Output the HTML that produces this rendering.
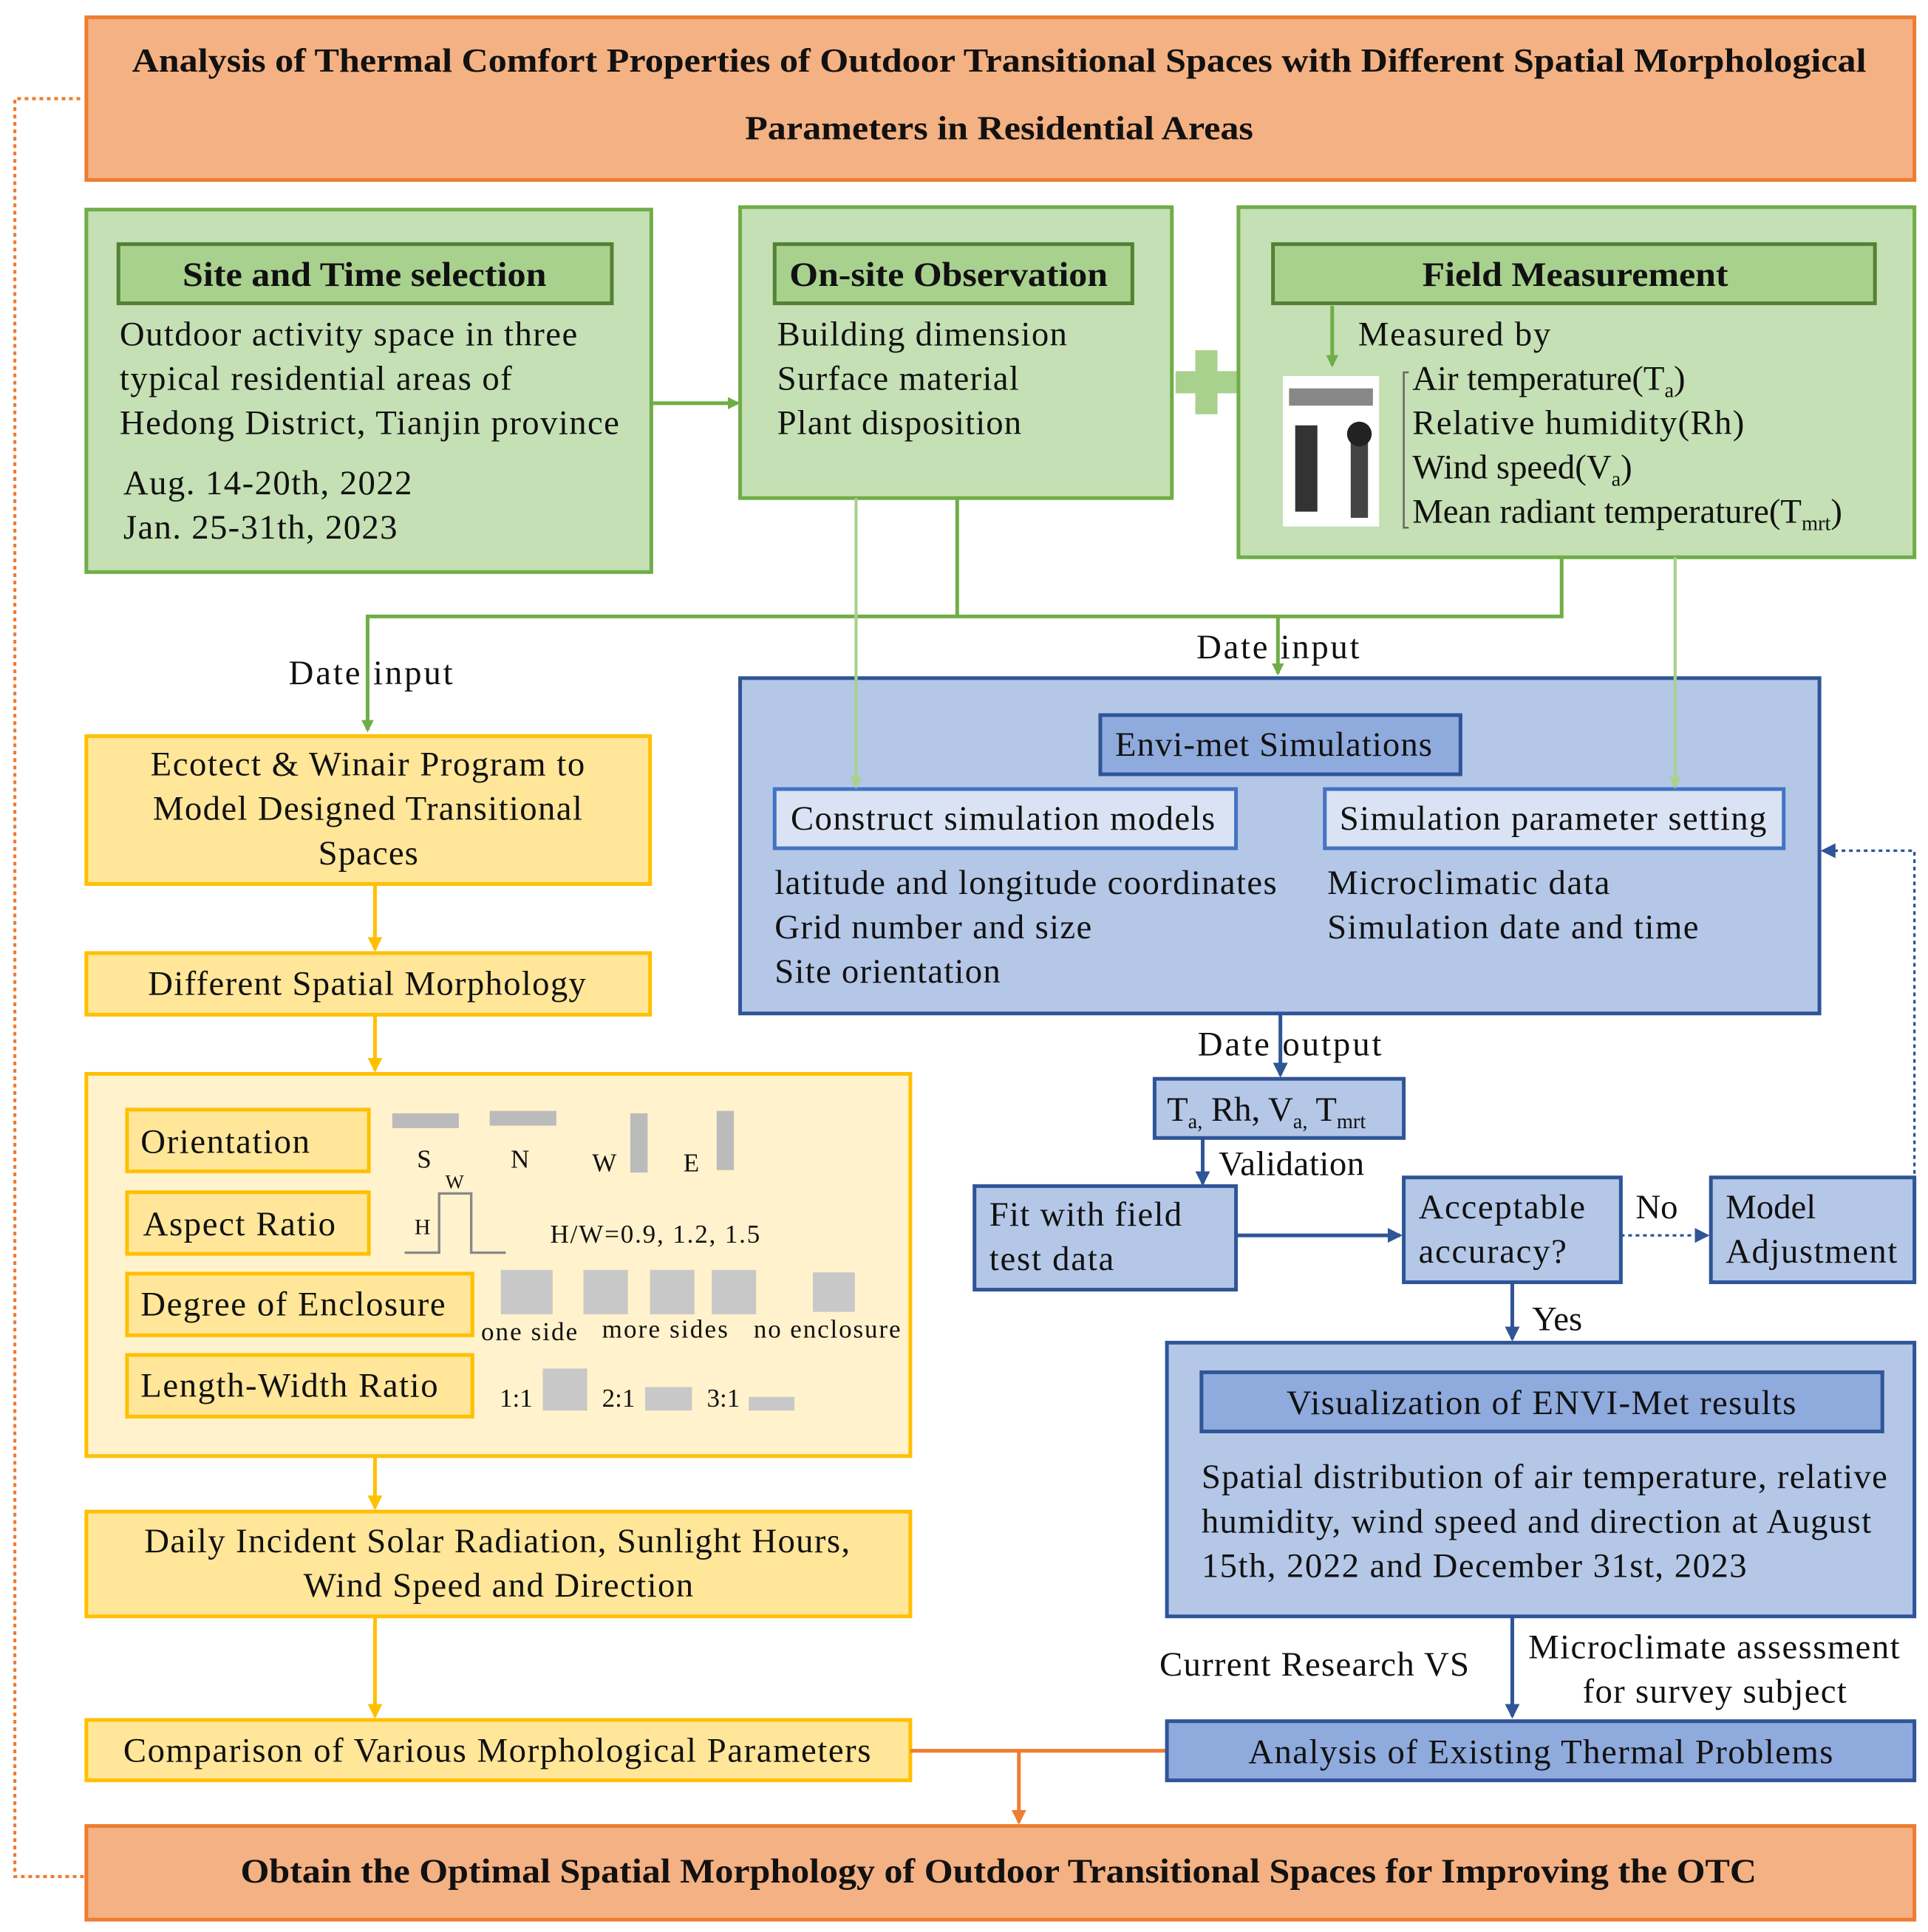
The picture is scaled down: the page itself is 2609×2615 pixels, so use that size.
<!DOCTYPE html>
<html><head><meta charset="utf-8"><style>
html,body{margin:0;padding:0;background:#fff;}
svg{display:block;}
text{font-family:"Liberation Serif",serif;fill:#111;}
.t{font-size:28px;}
.b{font-weight:bold;}
</style></head><body>
<svg width="2609" height="2615" viewBox="0 0 1563 1567" preserveAspectRatio="none" xmlns="http://www.w3.org/2000/svg">
<defs>
<marker id="ag" markerWidth="10" markerHeight="10" refX="8" refY="5" orient="auto" markerUnits="userSpaceOnUse"><path d="M0,0 L10,5 L0,10 z" fill="#70AD47"/></marker>
<marker id="agl" markerWidth="10" markerHeight="10" refX="8" refY="5" orient="auto" markerUnits="userSpaceOnUse"><path d="M0,0 L10,5 L0,10 z" fill="#A9D18E"/></marker>
<marker id="ay" markerWidth="12" markerHeight="12" refX="10" refY="6" orient="auto" markerUnits="userSpaceOnUse"><path d="M0,0 L12,6 L0,12 z" fill="#FFC000"/></marker>
<marker id="ab" markerWidth="12" markerHeight="12" refX="10" refY="6" orient="auto" markerUnits="userSpaceOnUse"><path d="M0,0 L12,6 L0,12 z" fill="#2F5597"/></marker>
<marker id="ao" markerWidth="12" markerHeight="12" refX="10" refY="6" orient="auto" markerUnits="userSpaceOnUse"><path d="M0,0 L12,6 L0,12 z" fill="#ED7D31"/></marker>
</defs>
<rect width="1563" height="1567" fill="#fff"/>
<polyline points="65,80 12,80 12,1522 68,1522" fill="none" stroke="#ED7D31" stroke-width="2.5" stroke-dasharray="3,3"/>
<rect x="70" y="14" width="1482" height="132" fill="#F4B183" stroke="#ED7D31" stroke-width="3"/>
<text x="107" y="58" class="b" font-size="27" textLength="1406" lengthAdjust="spacingAndGlyphs">Analysis of Thermal Comfort Properties of Outdoor Transitional Spaces with Different Spatial Morphological</text>
<text x="604" y="113" class="b" font-size="27" textLength="412" lengthAdjust="spacingAndGlyphs">Parameters in Residential Areas</text>

<rect x="70" y="170" width="458" height="294" fill="#C5E0B4" stroke="#70AD47" stroke-width="3"/>
<rect x="96" y="198" width="400" height="48" fill="#A9D18E" stroke="#548235" stroke-width="3"/>
<text x="148" y="232" class="t b" textLength="295" lengthAdjust="spacingAndGlyphs">Site and Time selection</text>
<text x="97" y="280" class="t" textLength="371">Outdoor activity space in three</text>
<text x="97" y="316" class="t" textLength="318">typical residential areas of</text>
<text x="97" y="352" class="t" textLength="405">Hedong District, Tianjin province</text>
<text x="100" y="401" class="t" textLength="234">Aug. 14-20th, 2022</text>
<text x="100" y="437" class="t" textLength="222">Jan. 25-31th, 2023</text>
<line x1="528" y1="327" x2="598" y2="327" stroke="#70AD47" stroke-width="3" marker-end="url(#ag)"/>

<rect x="600" y="168" width="350" height="236" fill="#C5E0B4" stroke="#70AD47" stroke-width="3"/>
<rect x="628" y="198" width="290" height="48" fill="#A9D18E" stroke="#548235" stroke-width="3"/>
<text x="640" y="232" class="t b" textLength="258" lengthAdjust="spacingAndGlyphs">On-site Observation</text>
<text x="630" y="280" class="t" textLength="235">Building  dimension</text>
<text x="630" y="316" class="t" textLength="196">Surface material</text>
<text x="630" y="352" class="t" textLength="198">Plant disposition</text>

<rect x="953" y="301" width="50" height="18" fill="#A9D18E"/>
<rect x="969" y="284" width="18" height="52" fill="#A9D18E"/>

<rect x="1004" y="168" width="548" height="284" fill="#C5E0B4" stroke="#70AD47" stroke-width="3"/>
<rect x="1032" y="198" width="488" height="48" fill="#A9D18E" stroke="#548235" stroke-width="3"/>
<text x="1153" y="232" class="t b" textLength="248" lengthAdjust="spacingAndGlyphs">Field Measurement</text>
<line x1="1080" y1="248" x2="1080" y2="296" stroke="#70AD47" stroke-width="3" marker-end="url(#ag)"/>
<text x="1101" y="280" class="t" textLength="156">Measured by</text>
<rect x="1040" y="305" width="78" height="122" fill="#fff"/>
<rect x="1045" y="315" width="68" height="14" fill="#888"/>
<rect x="1050" y="345" width="18" height="70" fill="#333"/>
<rect x="1095" y="355" width="14" height="65" fill="#444"/>
<circle cx="1102" cy="352" r="10" fill="#222"/>
<path d="M1142,302 L1138,302 L1138,428 L1142,428" fill="none" stroke="#666" stroke-width="1.5"/>
<text x="1145" y="316" class="t">Air temperature(T<tspan font-size="17" dy="6">a</tspan><tspan dy="-6">)</tspan></text>
<text x="1145" y="352" class="t" textLength="269">Relative humidity(Rh)</text>
<text x="1145" y="388" class="t">Wind speed(V<tspan font-size="17" dy="6">a</tspan><tspan dy="-6">)</tspan></text>
<text x="1145" y="424" class="t">Mean radiant temperature(T<tspan font-size="17" dy="6">mrt</tspan><tspan dy="-6">)</tspan></text>

<polyline points="776,404 776,500" fill="none" stroke="#70AD47" stroke-width="3"/>
<polyline points="1266,452 1266,500 298,500 298,592" fill="none" stroke="#70AD47" stroke-width="3" marker-end="url(#ag)"/>
<line x1="1036" y1="500" x2="1036" y2="546" stroke="#70AD47" stroke-width="3" marker-end="url(#ag)"/>
<text x="234" y="555" class="t" textLength="133">Date  input</text>
<text x="970" y="534" class="t" textLength="132">Date  input</text>

<rect x="70" y="597" width="457" height="120" fill="#FFE699" stroke="#FFC000" stroke-width="3"/>
<text x="122" y="629" class="t" textLength="352">Ecotect &amp; Winair Program to</text>
<text x="124" y="665" class="t" textLength="348">Model Designed Transitional</text>
<text x="258" y="701" class="t" textLength="81">Spaces</text>
<line x1="304" y1="717" x2="304" y2="770" stroke="#FFC000" stroke-width="3" marker-end="url(#ay)"/>
<rect x="70" y="773" width="457" height="50" fill="#FFE699" stroke="#FFC000" stroke-width="3"/>
<text x="120" y="807" class="t" textLength="355">Different Spatial Morphology</text>
<line x1="304" y1="823" x2="304" y2="868" stroke="#FFC000" stroke-width="3" marker-end="url(#ay)"/>

<rect x="70" y="871" width="668" height="310" fill="#FFF2CC" stroke="#FFC000" stroke-width="3"/>
<rect x="103" y="900" width="196" height="50" fill="#FFE699" stroke="#FFC000" stroke-width="3"/>
<text x="114" y="935" class="t" textLength="137">Orientation</text>
<rect x="103" y="967" width="196" height="50" fill="#FFE699" stroke="#FFC000" stroke-width="3"/>
<text x="116" y="1002" class="t" textLength="156">Aspect Ratio</text>
<rect x="103" y="1033" width="280" height="50" fill="#FFE699" stroke="#FFC000" stroke-width="3"/>
<text x="114" y="1067" class="t" textLength="247">Degree of Enclosure</text>
<rect x="103" y="1099" width="280" height="50" fill="#FFE699" stroke="#FFC000" stroke-width="3"/>
<text x="114" y="1133" class="t" textLength="241">Length-Width Ratio</text>
<rect x="318" y="903" width="54" height="12" fill="#bbb"/>
<rect x="397" y="901" width="54" height="12" fill="#bbb"/>
<rect x="511" y="903" width="14" height="48" fill="#bbb"/>
<rect x="581" y="901" width="14" height="48" fill="#bbb"/>
<g font-size="21"><text x="338" y="947">S</text><text x="414" y="947">N</text><text x="480" y="950">W</text><text x="554" y="950">E</text></g>
<polyline points="328,1016 356,1016 356,968 382,968 382,1016 410,1016" fill="none" stroke="#888" stroke-width="2"/>
<text x="336" y="1001" font-size="18">H</text><text x="361" y="964" font-size="16">W</text>
<text x="446" y="1008" font-size="21" textLength="170">H/W=0.9, 1.2, 1.5</text>
<g fill="#c8c8c8"><rect x="406" y="1030" width="42" height="36"/><rect x="473" y="1030" width="36" height="36"/><rect x="527" y="1030" width="36" height="36"/><rect x="577" y="1030" width="36" height="36"/><rect x="659" y="1032" width="34" height="32"/></g>
<g font-size="21"><text x="390" y="1087" textLength="78">one side</text><text x="488" y="1085" textLength="102">more sides</text><text x="611" y="1085" textLength="119">no enclosure</text></g>
<g fill="#c8c8c8"><rect x="440" y="1110" width="36" height="34"/><rect x="523" y="1125" width="38" height="19"/><rect x="607" y="1133" width="37" height="11"/></g>
<g font-size="21"><text x="405" y="1141">1:1</text><text x="488" y="1141">2:1</text><text x="573" y="1141">3:1</text></g>

<line x1="304" y1="1181" x2="304" y2="1223" stroke="#FFC000" stroke-width="3" marker-end="url(#ay)"/>
<rect x="70" y="1226" width="668" height="85" fill="#FFE699" stroke="#FFC000" stroke-width="3"/>
<text x="117" y="1259" class="t" textLength="572">Daily Incident Solar Radiation, Sunlight Hours,</text>
<text x="246" y="1295" class="t" textLength="316">Wind Speed and Direction</text>
<line x1="304" y1="1311" x2="304" y2="1392" stroke="#FFC000" stroke-width="3" marker-end="url(#ay)"/>
<rect x="70" y="1395" width="668" height="49" fill="#FFE699" stroke="#FFC000" stroke-width="3"/>
<text x="100" y="1429" class="t" textLength="606">Comparison of Various Morphological Parameters</text>

<line x1="738" y1="1420" x2="946" y2="1420" stroke="#ED7D31" stroke-width="3"/>
<line x1="826" y1="1420" x2="826" y2="1478" stroke="#ED7D31" stroke-width="3" marker-end="url(#ao)"/>
<rect x="70" y="1481" width="1482" height="76" fill="#F4B183" stroke="#ED7D31" stroke-width="3"/>
<text x="195" y="1527" class="b" font-size="28" textLength="1229" lengthAdjust="spacingAndGlyphs">Obtain the Optimal Spatial Morphology of Outdoor Transitional Spaces for Improving the OTC</text>

<rect x="600" y="550" width="875" height="272" fill="#B4C7E7" stroke="#2F5597" stroke-width="3"/>
<rect x="892" y="580" width="292" height="48" fill="#8FAADC" stroke="#2F5597" stroke-width="3"/>
<text x="904" y="613" class="t" textLength="257">Envi-met Simulations</text>
<rect x="628" y="640" width="374" height="48" fill="#DAE3F3" stroke="#4472C4" stroke-width="3"/>
<text x="641" y="673" class="t" textLength="344">Construct simulation  models</text>
<rect x="1074" y="640" width="372" height="48" fill="#DAE3F3" stroke="#4472C4" stroke-width="3"/>
<text x="1086" y="673" class="t" textLength="346">Simulation  parameter setting</text>
<line x1="694" y1="404" x2="694" y2="638" stroke="#A9D18E" stroke-width="2.5" marker-end="url(#agl)"/>
<line x1="1358" y1="452" x2="1358" y2="638" stroke="#A9D18E" stroke-width="2.5" marker-end="url(#agl)"/>
<text x="628" y="725" class="t" textLength="407">latitude and longitude coordinates</text>
<text x="628" y="761" class="t" textLength="257">Grid number and size</text>
<text x="628" y="797" class="t" textLength="183">Site orientation</text>
<text x="1076" y="725" class="t" textLength="229">Microclimatic data</text>
<text x="1076" y="761" class="t" textLength="301">Simulation  date and time</text>

<polyline points="1552,952 1552,690 1478,690" fill="none" stroke="#2F5597" stroke-width="2" stroke-dasharray="3,3" marker-end="url(#ab)"/>
<line x1="1038" y1="822" x2="1038" y2="872" stroke="#2F5597" stroke-width="3" marker-end="url(#ab)"/>
<text x="971" y="856" class="t" textLength="149">Date  output</text>
<rect x="936" y="875" width="202" height="48" fill="#B4C7E7" stroke="#2F5597" stroke-width="3"/>
<text x="946" y="909" class="t">T<tspan font-size="17" dy="6">a,</tspan><tspan dy="-6"> Rh, V</tspan><tspan font-size="17" dy="6">a,</tspan><tspan dy="-6"> T</tspan><tspan font-size="17" dy="6">mrt</tspan></text>
<line x1="975" y1="923" x2="975" y2="960" stroke="#2F5597" stroke-width="3" marker-end="url(#ab)"/>
<text x="988" y="953" class="t" textLength="118">Validation</text>
<rect x="790" y="962" width="212" height="84" fill="#B4C7E7" stroke="#2F5597" stroke-width="3"/>
<text x="802" y="994" class="t" textLength="156">Fit with field</text>
<text x="802" y="1030" class="t" textLength="101">test data</text>
<line x1="1002" y1="1002" x2="1135" y2="1002" stroke="#2F5597" stroke-width="3" marker-end="url(#ab)"/>
<rect x="1138" y="955" width="176" height="85" fill="#B4C7E7" stroke="#2F5597" stroke-width="3"/>
<text x="1150" y="988" class="t" textLength="135">Acceptable</text>
<text x="1150" y="1024" class="t" textLength="120">accuracy?</text>
<line x1="1314" y1="1002" x2="1384" y2="1002" stroke="#2F5597" stroke-width="2" stroke-dasharray="3,3" marker-end="url(#ab)"/>
<text x="1326" y="988" class="t">No</text>
<rect x="1387" y="955" width="165" height="85" fill="#B4C7E7" stroke="#2F5597" stroke-width="3"/>
<text x="1399" y="988" class="t">Model</text>
<text x="1399" y="1024" class="t" textLength="139">Adjustment</text>
<line x1="1226" y1="1040" x2="1226" y2="1086" stroke="#2F5597" stroke-width="3" marker-end="url(#ab)"/>
<text x="1242" y="1079" class="t">Yes</text>

<rect x="946" y="1089" width="606" height="222" fill="#B4C7E7" stroke="#2F5597" stroke-width="3"/>
<rect x="974" y="1113" width="552" height="48" fill="#8FAADC" stroke="#2F5597" stroke-width="3"/>
<text x="1043" y="1147" class="t" textLength="413">Visualization  of ENVI-Met results</text>
<text x="974" y="1207" class="t" textLength="556">Spatial distribution of air temperature, relative</text>
<text x="974" y="1243" class="t" textLength="543">humidity,  wind speed and direction at August</text>
<text x="974" y="1279" class="t" textLength="442">15th, 2022 and December 31st, 2023</text>
<line x1="1226" y1="1311" x2="1226" y2="1392" stroke="#2F5597" stroke-width="3" marker-end="url(#ab)"/>
<text x="940" y="1359" class="t" textLength="251">Current Research VS</text>
<text x="1239" y="1345" class="t" textLength="301">Microclimate assessment</text>
<text x="1283" y="1381" class="t" textLength="214">for survey subject</text>
<rect x="946" y="1396" width="606" height="48" fill="#8FAADC" stroke="#2F5597" stroke-width="3"/>
<text x="1012" y="1430" class="t" textLength="474">Analysis of Existing Thermal Problems</text>
</svg>
</body></html>
